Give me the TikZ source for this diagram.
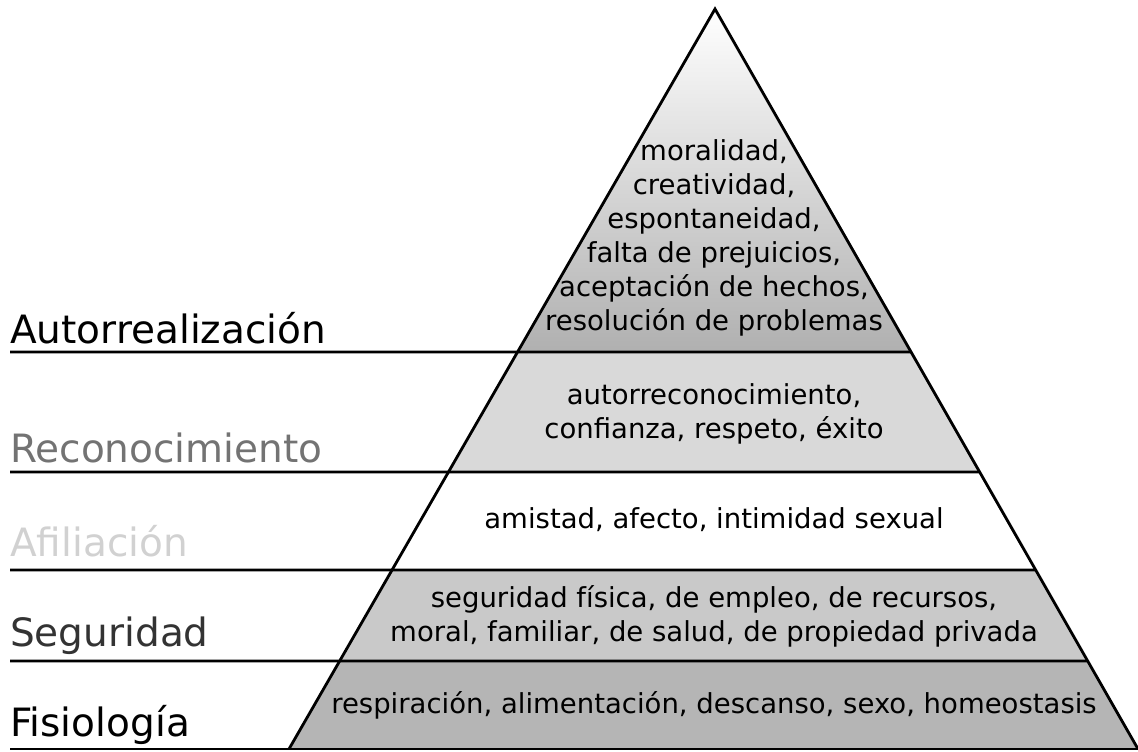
\documentclass[tikz,border=0pt]{standalone}
\usepackage{fontspec}
\setmainfont{DejaVu Sans}
\usetikzlibrary{calc}
\begin{document}
\begin{tikzpicture}[x=1pt,y=-1pt,
  divider/.style={line width=2.8pt, black},
  edge/.style={line width=2.8pt, black, line join=miter},
  level/.style={anchor=base west, font=\fontsize{39}{47}\selectfont, inner sep=0pt},
  content/.style={align=center, font=\fontsize{27.5}{34}\selectfont, inner sep=0pt}]
\useasboundingbox (0,0) rectangle (1138,752);
\coordinate (A) at (715,9);
\coordinate (BL) at (289,749);
\coordinate (BR) at (1138,749);
\coordinate (L1) at ($(A)!0.4635!(BL)$);
\coordinate (R1) at ($(A)!0.4635!(BR)$);
\coordinate (L2) at ($(A)!0.6257!(BL)$);
\coordinate (R2) at ($(A)!0.6257!(BR)$);
\coordinate (L3) at ($(A)!0.7581!(BL)$);
\coordinate (R3) at ($(A)!0.7581!(BR)$);
\coordinate (L4) at ($(A)!0.8811!(BL)$);
\coordinate (R4) at ($(A)!0.8811!(BR)$);
\coordinate (E1) at (10,352);
\coordinate (E2) at (10,472);
\coordinate (E3) at (10,570);
\coordinate (E4) at (10,661);
\coordinate (E5) at (10,749);
% layer fills
\shade[top color=white, bottom color=gray!62] (A) -- (L1) -- (R1) -- cycle;
\fill[gray!30] (L1) -- (L2) -- (R2) -- (R1) -- cycle;
\fill[white] (L2) -- (L3) -- (R3) -- (R2) -- cycle;
\fill[gray!42] (L3) -- (L4) -- (R4) -- (R3) -- cycle;
\fill[gray!58] (L4) -- (BL) -- (BR) -- (R4) -- cycle;
% outline and dividers
\draw[edge] (BL) -- (A) -- (BR);
\draw[divider] (E1) -- (R1);
\draw[divider] (E2) -- (R2);
\draw[divider] (E3) -- (R3);
\draw[divider] (E4) -- (R4);
\draw[divider] (E5) -- (BR);
% level labels
\node[level, text=black] (lab1) at (10,343) {Autorrealización};
\node[level, text=black!55] (lab2) at (10,462) {Reconocimiento};
\node[level, text=black!18] (lab3) at (10,556) {Afiliación};
\node[level, text=black!80] (lab4) at (10,646) {Seguridad};
\node[level, text=black] (lab5) at (10,736) {Fisiología};
% contents
\node[content] (t1) at (714,238) {moralidad,\\creatividad,\\espontaneidad,\\falta de prejuicios,\\aceptación de hechos,\\resolución de problemas};
\node[content] (t2) at (714,414) {autorreconocimiento,\\confianza, respeto, éxito};
\node[content] (t3) at (714,520) {amistad, afecto, intimidad sexual};
\node[content] (t4) at (714,616) {seguridad física, de empleo, de recursos,\\moral, familiar, de salud, de propiedad privada};
\node[content] (t5) at (714,705) {respiración, alimentación, descanso, sexo, homeostasis};
\end{tikzpicture}
\end{document}
